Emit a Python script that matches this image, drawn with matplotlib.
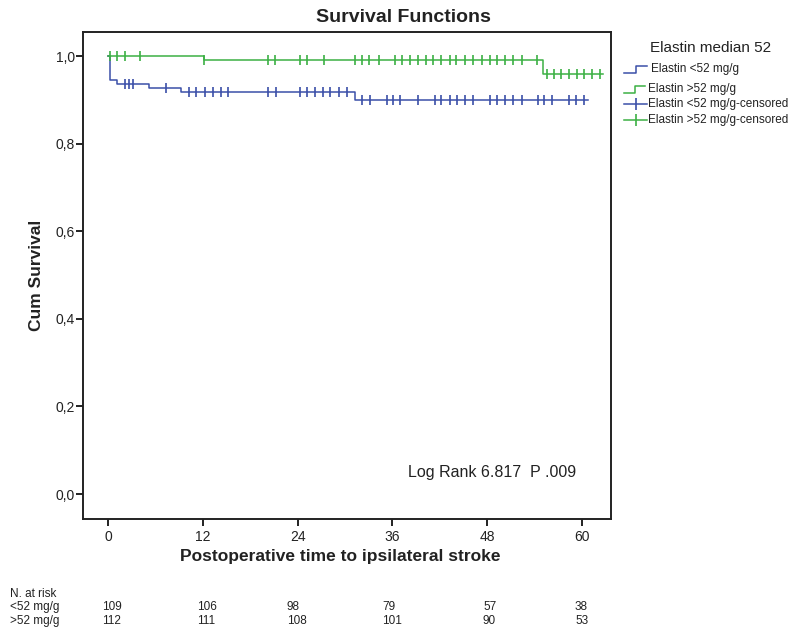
import numpy as np
import matplotlib
matplotlib.use("Agg")
from matplotlib import pyplot as plt

plt.rcParams['font.family'] = ['Liberation Sans', 'DejaVu Sans']

# Kaplan-Meier step data (months, cum survival)
low_times = [0, 0.25, 1.2, 5.2, 9.2, 31.3, 60.8]
low_surv = [1.0, 0.945, 0.936, 0.927, 0.917, 0.899, 0.899]
high_times = [0, 12.2, 55.1, 62.6]
high_surv = [1.0, 0.991, 0.959, 0.959]

low_censored = [2.2, 2.7, 3.2, 7.3, 10.3, 11.2, 12.3, 13.3, 14.3, 15.2, 20.2, 21.3,
                24.3, 25.2, 26.2, 27.2, 28.1, 29.2, 30.2, 32.1, 33.2, 35.3, 36.1, 37.0,
                39.3, 41.4, 42.2, 43.3, 44.2, 45.2, 46.2, 48.4, 49.3, 50.3, 51.3, 52.4,
                54.4, 55.2, 56.2, 58.4, 59.3, 60.3]
high_censored = [0.25, 1.2, 2.1, 4.1, 12.2, 20.2, 21.2, 24.3, 25.2, 27.3, 31.3, 32.1,
                 33.0, 34.3, 36.3, 37.2, 38.2, 39.3, 40.2, 41.2, 42.2, 43.3, 44.1, 45.2,
                 46.2, 47.3, 48.4, 49.3, 50.3, 51.3, 52.4, 54.3, 55.6, 56.5, 57.4, 58.4,
                 59.4, 60.3, 61.3, 62.3]

risk_groups = ['<52 mg/g', '>52 mg/g']
risk_low = [109, 106, 98, 79, 57, 38]
risk_high = [112, 111, 108, 101, 90, 53]

x_ticks = [0, 12, 24, 36, 48, 60]
y_ticks = [0.0, 0.2, 0.4, 0.6, 0.8, 1.0]

blue = '#3b4fa8'
green = '#3cb044'


def step_value(times, surv, t):
    # survival value at time t for a right-continuous step curve
    idx = np.searchsorted(times, t, side='right') - 1
    return np.array(surv)[idx]


W, H = 803, 627
fig = plt.figure(figsize=(W / 100, H / 100), dpi=100)
ax = fig.add_axes([83 / W, 1 - 519 / H, (611 - 83) / W, (519 - 32) / H])

ax.step(low_times, low_surv, where='post', color=blue, lw=1.1)
ax.step(high_times, high_surv, where='post', color=green, lw=1.1)
ax.plot(low_censored, step_value(low_times, low_surv, low_censored), ls='none',
        marker='|', ms=6.5, mew=1.2, color=blue)
ax.plot(high_censored, step_value(high_times, high_surv, high_censored), ls='none',
        marker='|', ms=6.5, mew=1.2, color=green)

ax.set_xlim(-3.16, 63.67)
ax.set_ylim(-0.057, 1.055)
ax.set_xticks(x_ticks)
ax.set_yticks(y_ticks)
ax.set_yticklabels([('%.1f' % v).replace('.', ',') for v in y_ticks])
ax.tick_params(direction='out', length=5, width=1.4, labelsize=10, colors='#222222')
ax.tick_params(axis='y', pad=1)
ax.tick_params(axis='x', pad=3)
for s in ax.spines.values():
    s.set_linewidth(1.4)
    s.set_color('#222222')

fig.text(0.503, 1 - 18 / H, 'Survival Functions', ha='center', va='center',
         fontsize=14, fontweight='bold', color='#222222')
fig.text(340 / W, 1 - 556 / H, 'Postoperative time to ipsilateral stroke', ha='center',
         va='center', fontsize=12.5, fontweight='bold', color='#222222')
fig.text(37 / W, 1 - 275 / H, 'Cum Survival', ha='center', va='center', rotation=90,
         fontsize=12.5, fontweight='bold', color='#222222')
fig.text(408 / W, 1 - 472 / H, 'Log Rank 6.817  P .009', ha='left', va='center',
         fontsize=11.5, color='#222222')

# legend drawn by hand in pixel space to the right of the plot
lax = fig.add_axes([0, 0, 1, 1])
lax.set_xlim(0, W)
lax.set_ylim(H, 0)
lax.axis('off')
lax.text(650, 48, 'Elastin median 52', fontsize=11, va='center', color='#222222')
lax.plot([624, 636, 636, 647], [73, 73, 66, 66], color=blue, lw=1.1)
lax.text(651, 69, 'Elastin <52 mg/g', fontsize=8.5, va='center', color='#222222')
lax.plot([624, 635, 635, 645], [93, 93, 86, 86], color=green, lw=1.1)
lax.text(648, 89, 'Elastin >52 mg/g', fontsize=8.5, va='center', color='#222222')
lax.plot([624, 647], [104, 104], color=blue, lw=1.1)
lax.plot([636], [104], marker='|', ms=8, mew=1.2, color=blue)
lax.text(648, 104, 'Elastin <52 mg/g-censored', fontsize=8.5, va='center', color='#222222')
lax.plot([624, 647], [120, 120], color=green, lw=1.1)
lax.plot([636], [120], marker='|', ms=8, mew=1.2, color=green)
lax.text(648, 120, 'Elastin >52 mg/g-censored', fontsize=8.5, va='center', color='#222222')

# numbers at risk table
col_x = [102, 197, 287, 382, 483, 575]
lax.text(10, 594, 'N. at risk', fontsize=8.5, va='center', color='#222222')
for row_y, name, vals in [(607, risk_groups[0], risk_low), (621, risk_groups[1], risk_high)]:
    lax.text(10, row_y, name, fontsize=8.5, va='center', color='#222222')
    for cx, v in zip(col_x, vals):
        lax.text(cx, row_y, str(v), fontsize=8.5, va='center', ha='left', color='#222222')

fig.savefig('out.png', dpi=100)
